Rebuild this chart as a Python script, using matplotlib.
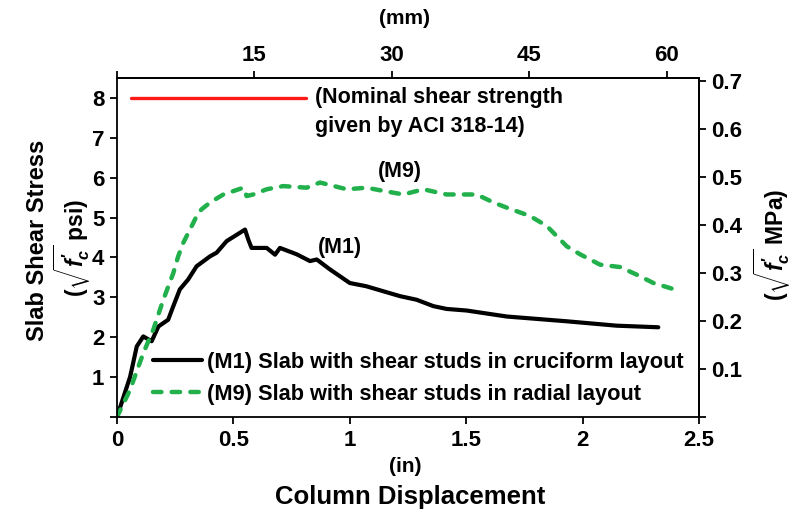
import matplotlib
matplotlib.use('Agg')
import matplotlib.pyplot as plt

plt.rcParams['font.family'] = ['Liberation Sans', 'DejaVu Sans']
plt.rcParams['font.weight'] = 'bold'
plt.rcParams['mathtext.fontset'] = 'custom'
plt.rcParams['mathtext.it'] = 'Liberation Sans:italic:bold'
plt.rcParams['mathtext.rm'] = 'Liberation Sans:bold'

# column displacement (in) vs. slab shear stress (sqrt(f'c) psi)
m1_disp = [0.0, 0.056, 0.063, 0.085, 0.113, 0.149, 0.178, 0.22, 0.242, 0.27,
           0.306, 0.342, 0.40, 0.428, 0.471, 0.55, 0.564, 0.578, 0.643, 0.679,
           0.70, 0.772, 0.829, 0.858, 0.915, 1.0, 1.07, 1.216, 1.287, 1.359,
           1.416, 1.502, 1.674, 1.932, 2.146, 2.325]
m1_stress = [0.0, 1.0, 1.18, 1.77, 2.02, 1.9, 2.27, 2.44, 2.78, 3.2,
             3.45, 3.78, 4.03, 4.12, 4.41, 4.70, 4.45, 4.24, 4.24, 4.07,
             4.24, 4.08, 3.91, 3.95, 3.70, 3.36, 3.28, 3.03, 2.94, 2.78,
             2.71, 2.67, 2.52, 2.40, 2.29, 2.25]

m9_disp = [0.0, 0.056, 0.113, 0.156, 0.199, 0.242, 0.263, 0.285, 0.328, 0.349,
           0.364, 0.40, 0.457, 0.543, 0.557, 0.585, 0.643, 0.714, 0.815, 0.872,
           0.987, 1.072, 1.144, 1.23, 1.316, 1.416, 1.545, 1.617, 1.674, 1.774,
           1.846, 1.932, 1.989, 2.075, 2.161, 2.232, 2.304, 2.383]
m9_stress = [0.0, 0.68, 1.6, 2.19, 2.94, 3.61, 4.03, 4.37, 4.87, 5.12,
             5.21, 5.38, 5.58, 5.75, 5.54, 5.58, 5.71, 5.79, 5.75, 5.88,
             5.71, 5.75, 5.67, 5.58, 5.71, 5.58, 5.58, 5.38, 5.25, 5.04,
             4.79, 4.28, 4.08, 3.82, 3.76, 3.57, 3.36, 3.22]

# ACI 318-14 nominal strength line
aci_x = [0.06, 0.81]
aci_level = 8

IN_TO_MM = 25.4
PSI_TO_MPA = 0.083

fig = plt.figure(figsize=(7.93, 5.14), dpi=100)
ax = fig.add_axes([0.1475, 0.1887, 0.7340, 0.6595])

green = '#21b04b'
ax.plot(m1_disp, m1_stress, color='black', lw=3.0, solid_capstyle='round',
        label='(M1) Slab with shear studs in cruciform layout')
ax.plot(m9_disp, m9_stress, color=green, lw=3.2, dashes=(1.9, 2.3),
        dash_capstyle='round',
        label='(M9) Slab with shear studs in radial layout')
ax.plot(aci_x, [aci_level, aci_level], color='#ff1a1a', lw=2.4,
        solid_capstyle='round')

ax.text(0.85, 7.65, '(Nominal shear strength\ngiven by ACI 318-14)',
        fontsize=15.5, va='center', ha='left', linespacing=1.5)
ax.text(1.213, 6.16, '(M9)', fontsize=15.5, ha='center', va='center')
ax.text(0.958, 4.25, '(M1)', fontsize=15.5, ha='center', va='center')

ax.set_xlim(0, 2.5)
ax.set_ylim(0, 8.5)
ax.set_xticks([0, 0.5, 1, 1.5, 2, 2.5])
ax.set_xticklabels(['0', '0.5', '1', '1.5', '2', '2.5'])
ax.set_yticks(range(9))
ax.set_yticklabels([''] + [str(i) for i in range(1, 9)])
ax.tick_params(direction='out', length=5, width=1.3, labelsize=16, pad=4)
for s in ax.spines.values():
    s.set_linewidth(1.3)

top = ax.secondary_xaxis('top', functions=(lambda x: x * IN_TO_MM,
                                           lambda x: x / IN_TO_MM))
top.set_xticks([0, 15, 30, 45, 60])
top.set_xticklabels(['', '15', '30', '45', '60'])
top.tick_params(direction='out', length=5, width=1.3, labelsize=16, pad=4)
top.spines['top'].set_linewidth(1.3)

right = ax.secondary_yaxis('right', functions=(lambda y: y * PSI_TO_MPA,
                                               lambda y: y / PSI_TO_MPA))
right.set_yticks([0, 0.1, 0.2, 0.3, 0.4, 0.5, 0.6, 0.7])
right.set_yticklabels(['', '0.1', '0.2', '0.3', '0.4', '0.5', '0.6', '0.7'])
right.tick_params(direction='out', length=5, width=1.3, labelsize=16, pad=4)
right.spines['right'].set_linewidth(1.3)

leg = ax.legend(loc='upper left', bbox_to_anchor=(0.062, 0.192), frameon=False,
                fontsize=15.7, handlelength=2.25, handletextpad=0.22,
                labelspacing=0.5, borderpad=0, borderaxespad=0)

# axis titles
fig.text(38 / 793, 1 - 240 / 514, 'Slab Shear Stress', rotation=90,
         ha='center', va='center', fontsize=17)
fig.text(72 / 793, 1 - 248 / 514, r'($\sqrt{f^{\prime}_c}$ psi)', rotation=90,
         ha='center', va='center', fontsize=16.5)
fig.text(772 / 793, 1 - 245 / 514, r'($\sqrt{f^{\prime}_c}$ MPa)', rotation=90,
         ha='center', va='center', fontsize=16.5)
fig.text(405 / 793, 1 - 18 / 514, '(mm)', ha='center', va='center', fontsize=15)
fig.text(405 / 793, 1 - 466 / 514, '(in)', ha='center', va='center', fontsize=15)
fig.text(410 / 793, 1 - 497 / 514, 'Column Displacement', ha='center',
         va='center', fontsize=18.5)

fig.savefig('out.png', dpi=100)
